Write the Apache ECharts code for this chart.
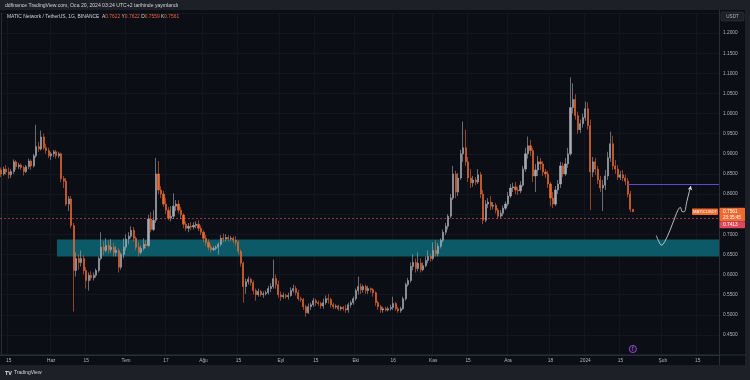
<!DOCTYPE html>
<html><head><meta charset="utf-8">
<script src="https://cdn.jsdelivr.net/npm/echarts@6/dist/echarts.min.js"></script>
<style>html,body{margin:0;padding:0;background:#1e2028;}#c{width:750px;height:380px;}</style>
</head><body><div id="c"></div>
<script>
// ---- data (MATIC/USDT daily, 2023-05-12 .. 2024-01-20) ----
const opens = [0.860,0.850,0.862,0.855,0.848,0.856,0.880,0.868,0.872,0.866,0.856,0.868,0.882,0.870,0.895,0.918,0.912,0.942,0.915,0.908,
0.895,0.900,0.905,0.895,0.900,0.838,0.832,0.775,0.788,0.722,0.610,0.640,0.630,0.640,0.610,0.585,0.598,0.592,0.598,0.610,
0.640,0.668,0.660,0.672,0.662,0.668,0.655,0.660,0.618,0.650,0.668,0.688,0.695,0.710,0.690,0.668,0.655,0.665,0.675,0.672,
0.738,0.712,0.735,0.850,0.810,0.800,0.775,0.760,0.740,0.745,0.770,0.775,0.760,0.748,0.725,0.715,0.720,0.718,0.722,0.725,
0.715,0.705,0.690,0.680,0.668,0.662,0.665,0.668,0.675,0.690,0.688,0.692,0.688,0.690,0.685,0.680,0.658,0.628,0.570,0.582,
0.588,0.580,0.560,0.550,0.558,0.550,0.552,0.555,0.565,0.570,0.590,0.575,0.550,0.545,0.548,0.545,0.548,0.560,0.565,0.555,
0.540,0.538,0.520,0.505,0.520,0.525,0.535,0.530,0.528,0.522,0.530,0.540,0.538,0.525,0.520,0.522,0.515,0.518,0.515,0.512,
0.525,0.530,0.540,0.560,0.570,0.562,0.570,0.560,0.565,0.562,0.555,0.530,0.520,0.512,0.515,0.512,0.515,0.518,0.528,0.515,
0.510,0.515,0.540,0.575,0.585,0.620,0.630,0.615,0.628,0.612,0.622,0.635,0.645,0.640,0.660,0.652,0.670,0.685,0.705,0.720,
0.745,0.790,0.850,0.805,0.840,0.900,0.915,0.880,0.840,0.828,0.835,0.830,0.848,0.800,0.735,0.775,0.780,0.770,0.772,0.760,
0.745,0.752,0.765,0.775,0.795,0.815,0.818,0.810,0.808,0.822,0.862,0.900,0.920,0.908,0.845,0.860,0.880,0.875,0.855,0.850,
0.825,0.790,0.775,0.810,0.825,0.870,0.850,0.875,0.900,1.015,1.035,0.995,0.960,0.975,0.990,1.012,0.970,0.855,0.880,0.862,
0.835,0.815,0.822,0.845,0.890,0.925,0.870,0.862,0.842,0.848,0.840,0.832,0.800,0.7622];
const closes = [0.850,0.862,0.855,0.848,0.856,0.880,0.868,0.872,0.866,0.856,0.868,0.882,0.870,0.895,0.918,0.912,0.942,0.915,0.908,0.895,
0.900,0.905,0.895,0.900,0.838,0.832,0.775,0.788,0.722,0.610,0.640,0.630,0.640,0.610,0.585,0.598,0.592,0.598,0.610,0.640,
0.668,0.660,0.672,0.662,0.668,0.655,0.660,0.618,0.650,0.668,0.688,0.695,0.710,0.690,0.668,0.655,0.665,0.675,0.672,0.738,
0.712,0.735,0.850,0.810,0.800,0.775,0.760,0.740,0.745,0.770,0.775,0.760,0.748,0.725,0.715,0.720,0.718,0.722,0.725,0.715,
0.705,0.690,0.680,0.668,0.662,0.665,0.668,0.675,0.690,0.688,0.692,0.688,0.690,0.685,0.680,0.658,0.628,0.570,0.582,0.588,
0.580,0.560,0.550,0.558,0.550,0.552,0.555,0.565,0.570,0.590,0.575,0.550,0.545,0.548,0.545,0.548,0.560,0.565,0.555,0.540,
0.538,0.520,0.505,0.520,0.525,0.535,0.530,0.528,0.522,0.530,0.540,0.538,0.525,0.520,0.522,0.515,0.518,0.515,0.512,0.525,
0.530,0.540,0.560,0.570,0.562,0.570,0.560,0.565,0.562,0.555,0.530,0.520,0.512,0.515,0.512,0.515,0.518,0.528,0.515,0.510,
0.515,0.540,0.575,0.585,0.620,0.630,0.615,0.628,0.612,0.622,0.635,0.645,0.640,0.660,0.652,0.670,0.685,0.705,0.720,0.745,
0.790,0.850,0.805,0.840,0.900,0.915,0.880,0.840,0.828,0.835,0.830,0.848,0.800,0.735,0.775,0.780,0.770,0.772,0.760,0.745,
0.752,0.765,0.775,0.795,0.815,0.818,0.810,0.808,0.822,0.862,0.900,0.920,0.908,0.845,0.860,0.880,0.875,0.855,0.850,0.825,
0.790,0.775,0.810,0.825,0.870,0.850,0.875,0.900,1.015,1.035,0.995,0.960,0.975,0.990,1.012,0.970,0.855,0.880,0.862,0.835,
0.815,0.822,0.845,0.890,0.925,0.870,0.862,0.842,0.848,0.840,0.832,0.800,0.762,0.7561];
const lows = [0.842,0.846,0.848,0.838,0.840,0.850,0.860,0.862,0.860,0.846,0.852,0.862,0.860,0.866,0.890,0.905,0.908,0.910,0.900,0.890,
0.885,0.892,0.888,0.890,0.830,0.815,0.770,0.758,0.715,0.508,0.595,0.612,0.620,0.600,0.565,0.560,0.585,0.585,0.592,0.605,
0.635,0.648,0.655,0.652,0.655,0.645,0.645,0.605,0.612,0.640,0.660,0.675,0.690,0.682,0.660,0.645,0.650,0.660,0.665,0.668,
0.705,0.708,0.728,0.800,0.790,0.768,0.750,0.735,0.732,0.738,0.758,0.752,0.738,0.715,0.708,0.705,0.710,0.712,0.715,0.708,
0.698,0.680,0.672,0.660,0.655,0.658,0.660,0.650,0.670,0.680,0.682,0.682,0.684,0.678,0.672,0.650,0.620,0.530,0.552,0.575,
0.572,0.550,0.535,0.545,0.545,0.542,0.548,0.550,0.556,0.565,0.565,0.542,0.535,0.540,0.540,0.538,0.545,0.555,0.548,0.535,
0.532,0.512,0.495,0.502,0.512,0.520,0.522,0.522,0.515,0.515,0.525,0.528,0.518,0.514,0.515,0.510,0.510,0.510,0.505,0.505,
0.518,0.525,0.535,0.550,0.552,0.555,0.552,0.552,0.555,0.545,0.522,0.512,0.505,0.505,0.508,0.508,0.510,0.512,0.510,0.505,
0.505,0.512,0.535,0.570,0.580,0.610,0.605,0.608,0.605,0.608,0.618,0.628,0.632,0.635,0.645,0.645,0.665,0.680,0.698,0.712,
0.740,0.785,0.790,0.795,0.835,0.880,0.870,0.830,0.815,0.818,0.822,0.825,0.790,0.725,0.730,0.765,0.760,0.762,0.752,0.738,
0.740,0.745,0.760,0.770,0.790,0.805,0.800,0.798,0.802,0.818,0.855,0.888,0.895,0.830,0.805,0.845,0.860,0.845,0.840,0.815,
0.770,0.765,0.770,0.800,0.815,0.842,0.845,0.865,0.895,1.000,0.985,0.950,0.952,0.965,0.982,0.960,0.760,0.842,0.848,0.825,
0.805,0.758,0.810,0.835,0.880,0.860,0.850,0.835,0.835,0.832,0.822,0.792,0.755,0.7559];
const highs = [0.866,0.868,0.872,0.866,0.862,0.886,0.884,0.878,0.876,0.870,0.872,0.888,0.886,0.900,0.972,0.930,0.958,0.950,0.925,0.915,
0.905,0.910,0.910,0.905,0.903,0.845,0.840,0.795,0.795,0.728,0.655,0.650,0.660,0.648,0.618,0.605,0.608,0.605,0.615,0.645,
0.705,0.682,0.690,0.685,0.688,0.678,0.670,0.665,0.655,0.690,0.700,0.705,0.720,0.718,0.695,0.680,0.672,0.690,0.685,0.748,
0.755,0.760,0.890,0.882,0.820,0.808,0.790,0.768,0.770,0.802,0.785,0.785,0.768,0.752,0.732,0.728,0.730,0.730,0.732,0.735,
0.722,0.710,0.698,0.688,0.675,0.670,0.672,0.680,0.698,0.702,0.700,0.698,0.696,0.695,0.695,0.685,0.662,0.632,0.590,0.595,
0.592,0.585,0.565,0.565,0.562,0.558,0.560,0.572,0.578,0.637,0.600,0.585,0.558,0.555,0.552,0.555,0.568,0.575,0.572,0.562,
0.545,0.542,0.525,0.528,0.530,0.542,0.540,0.535,0.532,0.540,0.548,0.552,0.542,0.530,0.526,0.525,0.522,0.522,0.525,0.530,
0.535,0.545,0.565,0.595,0.578,0.575,0.575,0.572,0.568,0.566,0.558,0.535,0.525,0.520,0.520,0.520,0.525,0.545,0.532,0.520,
0.520,0.545,0.580,0.592,0.630,0.650,0.640,0.655,0.640,0.630,0.645,0.660,0.652,0.680,0.685,0.678,0.690,0.712,0.728,0.750,
0.800,0.870,0.858,0.852,0.910,0.980,0.960,0.892,0.862,0.845,0.842,0.862,0.855,0.810,0.785,0.790,0.795,0.780,0.778,0.765,
0.760,0.772,0.782,0.805,0.825,0.828,0.830,0.818,0.832,0.870,0.915,0.943,0.935,0.915,0.875,0.895,0.890,0.882,0.862,0.858,
0.830,0.805,0.820,0.835,0.880,0.878,0.890,0.915,1.090,1.075,1.048,1.005,0.985,1.000,1.030,1.028,0.985,0.892,0.890,0.870,
0.845,0.835,0.860,0.905,0.955,0.945,0.885,0.872,0.858,0.860,0.848,0.840,0.808,0.7622];

const startDate = [2023, 4, 12];      // 2023-05-12 (UTC, month 0-based)
const totalDays = 288;                // axis runs to 2024-02-23
const tickDates  = ['2023-05-15','2023-06-01','2023-06-15','2023-07-01','2023-07-17','2023-08-01','2023-08-15','2023-09-01','2023-09-15','2023-10-01','2023-10-16','2023-11-01','2023-11-15','2023-12-01','2023-12-18','2024-01-01','2024-01-15','2024-02-01','2024-02-15'];
const tickLabels = ['15','Haz','15','Tem','17','Ağu','15','Eyl','15','Eki','16','Kas','15','Ara','18','2024','15','Şub','15'];

// drawings (in data coordinates: day index, price)
const zoneStart = 22.3, zoneLow = 0.645, zoneHigh = 0.687;
const targetStart = 251, targetPrice = 0.8258;
const refPrice = 0.7413;
const arrowIdx   = [262.4,263.4,264.5,265.8,267.8,269.8,271.2,272.0,272.8,273.6,274.6,275.6,276.2];
const arrowPrice = [0.697,0.682,0.673,0.682,0.709,0.741,0.762,0.767,0.756,0.756,0.781,0.806,0.820];

// ---- build ----
const dates = [];
for (let k = 0; k < totalDays; k++) {
  const d = new Date(Date.UTC(startDate[0], startDate[1], startDate[2] + k));
  dates.push(d.toISOString().slice(0, 10));
}
const candles = opens.map((o, k) => [o, closes[k], lows[k], highs[k]]);
const last = opens.length - 1;
const UP = '#a9acb5', DOWN = '#ef6a2e';
const FONT = 'Liberation Sans';
const showTick = (i, v) => tickDates.indexOf(v) >= 0;

const chart = echarts.init(document.getElementById('c'), null, {renderer: 'canvas'});
const option = {
  backgroundColor: '#1e2028',
  animation: false,
  grid: {left: 0, right: 31, top: 13, bottom: 25},
  xAxis: [{
    type: 'category', data: dates, boundaryGap: true,
    axisLine: {show: true, lineStyle: {color: '#2a2e39'}},
    axisTick: {show: false},
    axisLabel: {interval: showTick, formatter: v => tickLabels[tickDates.indexOf(v)] || '',
      color: '#b2b5be', fontSize: 4.8, fontFamily: FONT, margin: 3},
    splitLine: {show: true, interval: showTick, lineStyle: {color: '#131621', width: 1}}
  }, {
    type: 'value', min: -0.5, max: totalDays - 0.5, show: false
  }],
  yAxis: {
    type: 'value', position: 'right', min: 0.40, max: 1.25, interval: 0.05, scale: true,
    axisLine: {show: true, lineStyle: {color: '#2a2e39'}},
    axisTick: {show: false},
    axisLabel: {formatter: v => (v > 1.21 || v < 0.44 || Math.abs(v - 0.75) < 1e-6) ? '' : v.toFixed(4),
      color: '#b2b5be', fontSize: 4.8, fontFamily: FONT, margin: 4},
    splitLine: {show: true, lineStyle: {color: '#131621', width: 1}}
  },
  series: [{
    type: 'custom', xAxisIndex: 1, z: 1, silent: true,
    data: [[zoneStart, zoneLow, totalDays - 0.5, zoneHigh]],
    renderItem: (params, api) => {
      const p1 = api.coord([api.value(0), api.value(1)]);
      const p2 = api.coord([api.value(2), api.value(3)]);
      return {type: 'rect', shape: {x: p1[0], y: p2[1], width: p2[0] - p1[0], height: p1[1] - p2[1]},
        style: {fill: '#0c5a68'}};
    }
  }, {
    type: 'candlestick', z: 5, data: candles, barWidth: 1.6,
    itemStyle: {color: UP, color0: DOWN, borderColor: UP, borderColor0: DOWN, borderWidth: 0.6},
    markLine: {silent: true, symbol: 'none', animation: false,
      data: [{yAxis: refPrice}], label: {show: false},
      lineStyle: {color: '#b8404f', type: [2, 2], width: 0.8}}
  }, {
    type: 'custom', xAxisIndex: 1, z: 6, silent: true,
    data: [[targetStart, targetPrice, totalDays - 0.5]],
    renderItem: (params, api) => {
      const a = api.coord([api.value(0), api.value(1)]);
      const b = api.coord([api.value(2), api.value(1)]);
      const y = Math.round(a[1]) + 0.5;
      return {type: 'line', shape: {x1: a[0], y1: y, x2: b[0], y2: y}, style: {stroke: '#5a4bd1', lineWidth: 1}};
    }
  }, {
    type: 'line', xAxisIndex: 1, z: 7, silent: true, smooth: 0.35,
    symbol: 'none',
    data: arrowIdx.map((x, k) => k === arrowIdx.length - 1
      ? {value: [x, arrowPrice[k]], symbol: 'arrow', symbolSize: [3.5, 4], symbolRotate: -12, itemStyle: {color: '#e6e6e6'}}
      : [x, arrowPrice[k]]),
    showSymbol: true,
    lineStyle: {color: '#e6e6e6', width: 0.8}
  }]
};
chart.setOption(option);

// ---- annotations / chrome ----
const lastClose = closes[last];
const yClose = chart.convertToPixel({yAxisIndex: 0}, lastClose);
const xLast = chart.convertToPixel({xAxisIndex: 0}, dates[last]);
const fmt4 = v => v.toFixed(4);

chart.setOption({graphic: [
  {type: 'rect', z: -100, silent: true, shape: {x: 0, y: 10, width: 745, height: 355}, style: {fill: '#0b0e15'}},
  {type: 'line', z: 50, silent: true, shape: {x1: 719.5, y1: 10, x2: 719.5, y2: 365}, style: {stroke: '#2a2e39', lineWidth: 1}},
  {type: 'line', z: 50, silent: true, shape: {x1: 0, y1: 355, x2: 745, y2: 355}, style: {stroke: '#2a2e39', lineWidth: 1}},
  {type: 'text', x: 5, y: 5.5, z: 60, silent: true, style: {text: 'ddfinance TradingView.com, Oca 20, 2024 03:24 UTC+2 tarihinde yayınlandı',
    fill: '#d1d4dc', fontSize: 5.1, fontFamily: FONT, verticalAlign: 'middle'}},
  {type: 'text', x: 7, y: 17, silent: true, z: 60, style: {
    text: '{n|MATIC Network / TetherUS, 1G, BINANCE}  {l|A}{v|' + fmt4(opens[last]) + '} {l|Y}{v|' + fmt4(highs[last]) +
      '} {l|D}{v|' + fmt4(lows[last]) + '} {l|K}{v|' + fmt4(closes[last]) + '}',
    verticalAlign: 'middle', fontFamily: FONT, fontSize: 4.9,
    rich: {n: {fill: '#d1d4dc', fontSize: 4.9, fontFamily: FONT}, l: {fill: '#d1d4dc', fontSize: 4.9, fontFamily: FONT},
      v: {fill: '#f0643c', fontSize: 4.9, fontFamily: FONT}}}},
  {type: 'rect', z: 60, silent: true, shape: {x: 721, y: 12, width: 23, height: 9, r: 1.5}, style: {fill: '#1e2028', stroke: '#363a45', lineWidth: 0.6}},
  {type: 'text', z: 61, silent: true, x: 732.5, y: 16.5, style: {text: 'USDT', fill: '#b2b5be', fontSize: 4.6, fontFamily: FONT, align: 'center', verticalAlign: 'middle'}},
  // symbol label
  {type: 'rect', z: 60, silent: true, shape: {x: 692, y: yClose - 3.2, width: 26, height: 6.4, r: 0.8}, style: {fill: DOWN}},
  {type: 'text', z: 61, silent: true, x: 705, y: yClose, style: {text: 'MATICUSDT', fill: '#ffffff', fontSize: 4.2, fontFamily: FONT, align: 'center', verticalAlign: 'middle'}},
  // last price label
  {type: 'rect', z: 60, silent: true, shape: {x: 719.5, y: yClose - 4, width: 25.5, height: 13.5, r: 0.8}, style: {fill: DOWN}},
  {type: 'text', z: 61, silent: true, x: 723, y: yClose, style: {text: fmt4(lastClose), fill: '#ffffff', fontSize: 4.8, fontFamily: FONT, verticalAlign: 'middle'}},
  {type: 'text', z: 61, silent: true, x: 723, y: yClose + 6, style: {text: '23:35:45', fill: '#ffffff', fontSize: 4.6, fontFamily: FONT, verticalAlign: 'middle'}},
  // reference line label (pushed below last price label)
  {type: 'rect', z: 60, silent: true, shape: {x: 719.5, y: yClose + 9.5, width: 25.5, height: 7, r: 0.8}, style: {fill: '#e0485a'}},
  {type: 'text', z: 61, silent: true, x: 723, y: yClose + 13, style: {text: fmt4(refPrice), fill: '#ffffff', fontSize: 4.8, fontFamily: FONT, verticalAlign: 'middle'}},
  // event marker
  {type: 'circle', z: 60, silent: true, shape: {cx: xLast, cy: 349, r: 3.6}, style: {fill: '#1d1230', stroke: '#9b4fd8', lineWidth: 0.9}},
  {type: 'text', z: 61, silent: true, x: xLast, y: 349, style: {text: 'ƒ', fill: '#b47be8', fontSize: 4.5, fontFamily: FONT, align: 'center', verticalAlign: 'middle'}},
  // footer logo
  {type: 'text', z: 61, silent: true, x: 5, y: 373, style: {text: 'TV', fill: '#e0e3eb', fontSize: 5.5, fontWeight: 'bold', fontFamily: FONT, verticalAlign: 'middle'}},
  {type: 'text', z: 61, silent: true, x: 14, y: 373, style: {text: 'TradingView', fill: '#d1d4dc', fontSize: 5, fontFamily: FONT, verticalAlign: 'middle'}}
]});
</script></body></html>
